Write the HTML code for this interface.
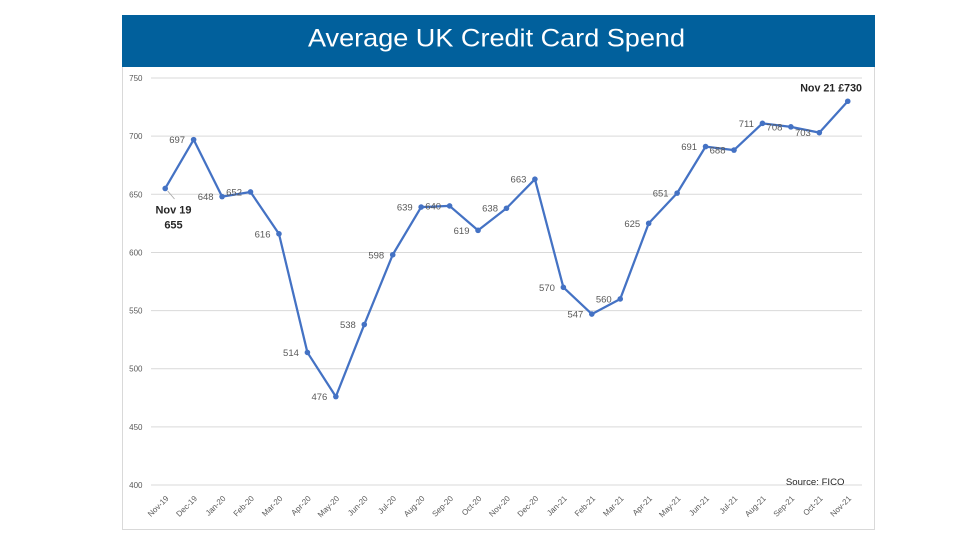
<!DOCTYPE html>
<html>
<head>
<meta charset="utf-8">
<style>
  html, body { margin: 0; padding: 0; background: #ffffff; }
  body { width: 960px; height: 540px; overflow: hidden; }
  svg { display: block; }
</style>
</head>
<body>
<svg width="960" height="540" viewBox="0 0 960 540" xmlns="http://www.w3.org/2000/svg">
  <rect x="0" y="0" width="960" height="540" fill="#ffffff"/>
  <!-- chart frame -->
  <rect x="122.5" y="66.5" width="752" height="463" fill="#ffffff" stroke="#d9d9d9" stroke-width="1"/>
  <!-- header -->
  <rect x="122" y="15" width="753" height="52" fill="#01609c"/>
  <text x="308" y="46.7" font-family="Liberation Sans, sans-serif" font-size="25" fill="#ffffff" textLength="377" lengthAdjust="spacingAndGlyphs">Average UK Credit Card Spend</text>

  <!-- gridlines -->
  <g stroke="#d9d9d9" stroke-width="1">
    <line x1="151" y1="78" x2="862" y2="78"/>
    <line x1="151" y1="136.15" x2="862" y2="136.15"/>
    <line x1="151" y1="194.29" x2="862" y2="194.29"/>
    <line x1="151" y1="252.44" x2="862" y2="252.44"/>
    <line x1="151" y1="310.58" x2="862" y2="310.58"/>
    <line x1="151" y1="368.73" x2="862" y2="368.73"/>
    <line x1="151" y1="426.87" x2="862" y2="426.87"/>
    <line x1="151" y1="485" x2="862" y2="485"/>
  </g>

  <!-- y axis labels -->
  <g font-family="Liberation Sans, sans-serif" font-size="8" fill="#595959" text-anchor="end">
    <text x="142.5" y="81">750</text>
    <text x="142.5" y="139.1">700</text>
    <text x="142.5" y="197.3">650</text>
    <text x="142.5" y="255.4">600</text>
    <text x="142.5" y="313.6">550</text>
    <text x="142.5" y="371.7">500</text>
    <text x="142.5" y="429.9">450</text>
    <text x="142.5" y="488">400</text>
  </g>

  <!-- x axis labels -->
  <g font-family="Liberation Sans, sans-serif" font-size="8" fill="#595959" text-anchor="end">
    <text transform="translate(169.2,499) rotate(-45)">Nov-19</text>
    <text transform="translate(197.6,499) rotate(-45)">Dec-19</text>
    <text transform="translate(226.1,499) rotate(-45)">Jan-20</text>
    <text transform="translate(254.5,499) rotate(-45)">Feb-20</text>
    <text transform="translate(283,499) rotate(-45)">Mar-20</text>
    <text transform="translate(311.4,499) rotate(-45)">Apr-20</text>
    <text transform="translate(339.8,499) rotate(-45)">May-20</text>
    <text transform="translate(368.3,499) rotate(-45)">Jun-20</text>
    <text transform="translate(396.7,499) rotate(-45)">Jul-20</text>
    <text transform="translate(425.2,499) rotate(-45)">Aug-20</text>
    <text transform="translate(453.6,499) rotate(-45)">Sep-20</text>
    <text transform="translate(482,499) rotate(-45)">Oct-20</text>
    <text transform="translate(510.5,499) rotate(-45)">Nov-20</text>
    <text transform="translate(538.9,499) rotate(-45)">Dec-20</text>
    <text transform="translate(567.4,499) rotate(-45)">Jan-21</text>
    <text transform="translate(595.8,499) rotate(-45)">Feb-21</text>
    <text transform="translate(624.2,499) rotate(-45)">Mar-21</text>
    <text transform="translate(652.7,499) rotate(-45)">Apr-21</text>
    <text transform="translate(681.1,499) rotate(-45)">May-21</text>
    <text transform="translate(709.6,499) rotate(-45)">Jun-21</text>
    <text transform="translate(738,499) rotate(-45)">Jul-21</text>
    <text transform="translate(766.4,499) rotate(-45)">Aug-21</text>
    <text transform="translate(794.9,499) rotate(-45)">Sep-21</text>
    <text transform="translate(823.3,499) rotate(-45)">Oct-21</text>
    <text transform="translate(851.8,499) rotate(-45)">Nov-21</text>
  </g>

  <!-- leader line for Nov 19 -->
  <line x1="167.7" y1="191" x2="174.5" y2="199" stroke="#a6a6a6" stroke-width="0.8"/>

  <!-- series line -->
  <polyline fill="none" stroke="#4472c4" stroke-width="2.25" stroke-linejoin="round"
    points="165.2,188.48 193.64,139.63 222.08,196.62 250.52,191.96 278.96,233.83 307.4,352.44 335.84,396.63 364.28,324.53 392.72,254.76 421.16,207.08 449.6,205.92 478.04,230.34 506.48,208.24 534.92,179.17 563.36,287.32 591.8,314.07 620.24,298.95 648.68,223.36 677.12,193.13 705.56,146.61 734,150.1 762.44,123.35 790.88,126.84 819.32,132.66 847.76,101.26"/>

  <!-- markers -->
  <g fill="#4472c4">
    <circle cx="165.2" cy="188.48" r="2.8"/>
    <circle cx="193.64" cy="139.63" r="2.8"/>
    <circle cx="222.08" cy="196.62" r="2.8"/>
    <circle cx="250.52" cy="191.96" r="2.8"/>
    <circle cx="278.96" cy="233.83" r="2.8"/>
    <circle cx="307.4" cy="352.44" r="2.8"/>
    <circle cx="335.84" cy="396.63" r="2.8"/>
    <circle cx="364.28" cy="324.53" r="2.8"/>
    <circle cx="392.72" cy="254.76" r="2.8"/>
    <circle cx="421.16" cy="207.08" r="2.8"/>
    <circle cx="449.6" cy="205.92" r="2.8"/>
    <circle cx="478.04" cy="230.34" r="2.8"/>
    <circle cx="506.48" cy="208.24" r="2.8"/>
    <circle cx="534.92" cy="179.17" r="2.8"/>
    <circle cx="563.36" cy="287.32" r="2.8"/>
    <circle cx="591.8" cy="314.07" r="2.8"/>
    <circle cx="620.24" cy="298.95" r="2.8"/>
    <circle cx="648.68" cy="223.36" r="2.8"/>
    <circle cx="677.12" cy="193.13" r="2.8"/>
    <circle cx="705.56" cy="146.61" r="2.8"/>
    <circle cx="734" cy="150.1" r="2.8"/>
    <circle cx="762.44" cy="123.35" r="2.8"/>
    <circle cx="790.88" cy="126.84" r="2.8"/>
    <circle cx="819.32" cy="132.66" r="2.8"/>
    <circle cx="847.76" cy="101.26" r="2.8"/>
  </g>

  <!-- data labels -->
  <g font-family="Liberation Sans, sans-serif" font-size="9.5" fill="#595959" text-anchor="end">
    <text x="185.1" y="143.1">697</text>
    <text x="213.6" y="200.1">648</text>
    <text x="242" y="195.5">652</text>
    <text x="270.5" y="237.3">616</text>
    <text x="298.9" y="355.9">514</text>
    <text x="327.3" y="400.1">476</text>
    <text x="355.8" y="328">538</text>
    <text x="384.2" y="258.3">598</text>
    <text x="412.7" y="210.6">639</text>
    <text x="441.1" y="209.4">640</text>
    <text x="469.5" y="233.8">619</text>
    <text x="498" y="211.7">638</text>
    <text x="526.4" y="182.7">663</text>
    <text x="554.9" y="290.8">570</text>
    <text x="583.3" y="317.6">547</text>
    <text x="611.7" y="302.5">560</text>
    <text x="640.2" y="226.9">625</text>
    <text x="668.6" y="196.6">651</text>
    <text x="697.1" y="150.1">691</text>
    <text x="725.5" y="153.6">688</text>
    <text x="753.9" y="126.9">711</text>
    <text x="782.4" y="130.3">708</text>
    <text x="810.8" y="136.2">703</text>
  </g>

  <!-- callouts -->
  <g font-family="Liberation Sans, sans-serif" font-weight="bold" fill="#262626">
    <text x="173.5" y="213.5" font-size="11" text-anchor="middle">Nov 19</text>
    <text x="173.5" y="228.5" font-size="11" text-anchor="middle">655</text>
    <text x="862" y="91.5" font-size="10.7" text-anchor="end">Nov 21 £730</text>
  </g>

  <!-- source -->
  <text x="844.5" y="485" font-family="Liberation Sans, sans-serif" font-size="9.6" fill="#262626" text-anchor="end">Source: FICO</text>
</svg>
</body>
</html>
